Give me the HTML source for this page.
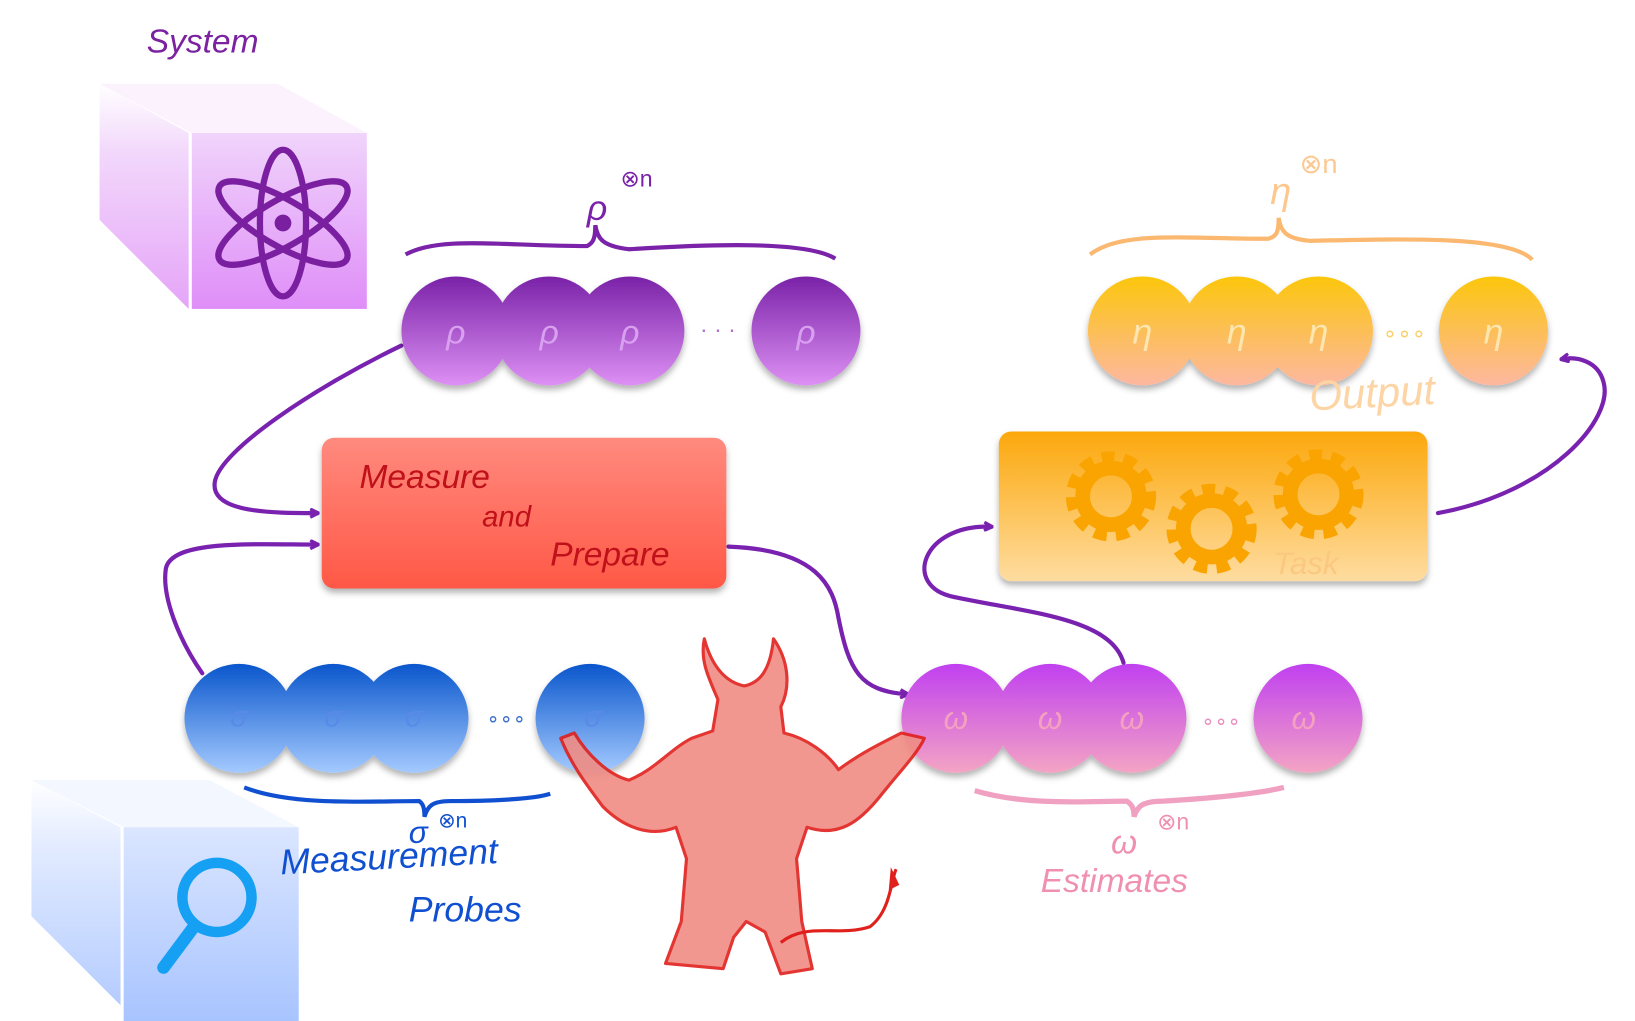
<!DOCTYPE html>
<html><head><meta charset="utf-8"><style>
html,body{margin:0;padding:0;background:#fff;}
svg{display:block;}
text{font-family:"Liberation Sans",sans-serif;}
</style></head><body>
<svg width="1635" height="1021" viewBox="0 0 1560 975" preserveAspectRatio="none" xmlns="http://www.w3.org/2000/svg">
<defs>
<linearGradient id="pf" x1="0" y1="0" x2="0" y2="1"><stop offset="0" stop-color="#f0d4fb"/><stop offset="1" stop-color="#df8ef8"/></linearGradient>
<linearGradient id="ps" x1="0" y1="0" x2="0" y2="1"><stop offset="0" stop-color="#fff"/><stop offset=".3" stop-color="#f2d8fb"/><stop offset="1" stop-color="#e5a4f8"/></linearGradient>
<linearGradient id="bf" x1="0" y1="0" x2="0" y2="1"><stop offset="0" stop-color="#dbe6ff"/><stop offset="1" stop-color="#a8c4ff"/></linearGradient>
<linearGradient id="bs" x1="0" y1="0" x2="0" y2="1"><stop offset="0" stop-color="#fff"/><stop offset=".3" stop-color="#e2ebff"/><stop offset="1" stop-color="#b4ccff"/></linearGradient>
<linearGradient id="rho" x1="0" y1="0" x2="0" y2="1"><stop offset="0" stop-color="#7a22a8"/><stop offset="1" stop-color="#dd90f4"/></linearGradient>
<linearGradient id="eta" x1="0" y1="0" x2="0" y2="1"><stop offset="0" stop-color="#fcc60c"/><stop offset="1" stop-color="#fdb8a0"/></linearGradient>
<linearGradient id="sig" x1="0" y1="0" x2="0" y2="1"><stop offset="0" stop-color="#0a56cc"/><stop offset="1" stop-color="#a4caff"/></linearGradient>
<linearGradient id="om" x1="0" y1="0" x2="0" y2="1"><stop offset="0" stop-color="#c040f0"/><stop offset="1" stop-color="#f4a4c4"/></linearGradient>
<linearGradient id="mp" x1="0" y1="0" x2="0" y2="1"><stop offset="0" stop-color="#ff8a7e"/><stop offset="1" stop-color="#ff5846"/></linearGradient>
<linearGradient id="tk" x1="0" y1="0" x2="0" y2="1"><stop offset="0" stop-color="#fca80c"/><stop offset="1" stop-color="#fedca0"/></linearGradient>
<filter id="sh" x="-20%" y="-20%" width="140%" height="150%"><feDropShadow dx="0" dy="4" stdDeviation="3" flood-opacity=".3"/></filter>
<marker id="ar" markerWidth="10" markerHeight="10" refX="8" refY="5" orient="auto" markerUnits="userSpaceOnUse"><path d="M1,1 L9,5 L1,9" fill="none" stroke="#7a22b0" stroke-width="3"/></marker>
</defs>

<text x="140" y="50" font-size="32" fill="#7a22a0" font-style="italic">System</text>
<polygon points="95,80 265,80 350,127 183,127" fill="#fbf2fe"/>
<polygon points="95,80 180,127 180,295 95,210" fill="url(#ps)"/>
<rect x="183" y="127" width="167" height="168" fill="url(#pf)"/>
<g fill="none" stroke="#7a1fa0" stroke-width="6">
<ellipse cx="270" cy="213" rx="22" ry="70"/>
<ellipse cx="270" cy="213" rx="22" ry="70" transform="rotate(60 270 213)"/>
<ellipse cx="270" cy="213" rx="22" ry="70" transform="rotate(-60 270 213)"/>
</g>
<circle cx="270" cy="213" r="8" fill="#7a1fa0"/>

<polygon points="30,745 200,745 285,790 118,790" fill="#f3f7ff"/>
<polygon points="30,745 115,790 115,960 30,875" fill="url(#bs)"/>
<rect x="118" y="790" width="167" height="185" fill="url(#bf)"/>
<circle cx="207" cy="857" r="33" fill="none" stroke="#15a0f4" stroke-width="10"/>
<line x1="185" y1="885" x2="156" y2="924" stroke="#15a0f4" stroke-width="12" stroke-linecap="round"/>

<g fill="none" stroke="#7a22b0" stroke-width="4" stroke-linecap="round">
<path d="M383,330 C300,370 210,430 205,460 C200,490 260,490 303,490" marker-end="url(#ar)"/>
<path d="M193,643 C170,610 155,570 158,545 C160,515 240,520 303,520" marker-end="url(#ar)"/>
<path d="M695,522 C780,525 795,560 800,590 C810,640 820,660 866,663" marker-end="url(#ar)"/>
<path d="M1072,633 C1060,590 980,585 910,570 C860,560 880,500 946,503" marker-end="url(#ar)"/>
<path d="M1372,490 C1480,470 1540,400 1530,365 C1525,345 1505,340 1490,343" marker-end="url(#ar)"/>
</g>

<path d="M387,243 C420,225 480,235 560,235 C566,232 568,228 568,215 C570,228 575,235 600,238 C680,233 770,230 797,247" fill="none" stroke="#7a22a8" stroke-width="4"/>
<text x="560" y="210" font-size="34" fill="#7a22a8" font-style="italic">ρ</text>
<text x="592" y="178" font-size="22" fill="#7a22a8">⊗n</text>
<g filter="url(#sh)">
<circle cx="435" cy="316" r="52" fill="url(#rho)"/>
<circle cx="524" cy="316" r="52" fill="url(#rho)"/>
<circle cx="601" cy="316" r="52" fill="url(#rho)"/>
<circle cx="769" cy="316" r="52" fill="url(#rho)"/>
</g>
<g font-size="32" fill="#d9a0f0" font-style="italic" text-anchor="middle">
<text x="435" y="328">ρ</text><text x="524" y="328">ρ</text><text x="601" y="328">ρ</text><text x="769" y="328">ρ</text>
</g>
<text x="685" y="322" font-size="22" fill="#b070d0" text-anchor="middle">· · ·</text>

<path d="M1040,243 C1070,220 1130,228 1210,228 C1218,226 1220,222 1220,208 C1222,222 1228,228 1250,230 C1340,228 1440,225 1462,248" fill="none" stroke="#fbb870" stroke-width="4"/>
<text x="1212" y="195" font-size="36" fill="#fcc890" font-style="italic">η</text>
<text x="1240" y="165" font-size="26" fill="#fcc890">⊗n</text>
<g filter="url(#sh)">
<circle cx="1090" cy="316" r="52" fill="url(#eta)"/>
<circle cx="1180" cy="316" r="52" fill="url(#eta)"/>
<circle cx="1258" cy="316" r="52" fill="url(#eta)"/>
<circle cx="1425" cy="316" r="52" fill="url(#eta)"/>
</g>
<g font-size="34" fill="#fde6b0" font-style="italic" text-anchor="middle">
<text x="1090" y="328">η</text><text x="1180" y="328">η</text><text x="1258" y="328">η</text><text x="1425" y="328">η</text>
</g>
<text x="1340" y="326" font-size="22" fill="#fbd070" text-anchor="middle">∘∘∘</text>
<text x="1250" y="392" font-size="40" fill="#fdd4a4" font-style="italic" transform="rotate(-3 1250 392)">Output</text>

<rect x="307" y="418" width="386" height="144" rx="12" fill="url(#mp)" filter="url(#sh)"/>
<g font-size="32" fill="#c0101a" font-style="italic">
<text x="343" y="466">Measure</text>
<text x="460" y="503" font-size="28">and</text>
<text x="525" y="540">Prepare</text>
</g>

<rect x="953" y="412" width="409" height="143" rx="12" fill="url(#tk)" filter="url(#sh)"/>
<g fill="none" stroke="#f9a400" stroke-width="18" stroke-dasharray="11 8">
<circle cx="1060" cy="474" r="34"/>
<circle cx="1156" cy="505" r="34"/>
<circle cx="1258" cy="472" r="34"/>
</g>
<g fill="none" stroke="#f9a400" stroke-width="14">
<circle cx="1060" cy="474" r="27"/>
<circle cx="1156" cy="505" r="27"/>
<circle cx="1258" cy="472" r="27"/>
</g>
<text x="1215" y="548" font-size="30" fill="#fbc880" font-style="italic">Task</text>

<g filter="url(#sh)">
<circle cx="228" cy="686" r="52" fill="url(#sig)"/>
<circle cx="318" cy="686" r="52" fill="url(#sig)"/>
<circle cx="395" cy="686" r="52" fill="url(#sig)"/>
<circle cx="563" cy="686" r="52" fill="url(#sig)"/>
</g>
<g font-size="28" fill="#5a8ae8" font-style="italic" text-anchor="middle">
<text x="228" y="694">σ</text><text x="318" y="694">σ</text><text x="395" y="694">σ</text><text x="566" y="694">σ</text>
</g>
<text x="483" y="694" font-size="20" fill="#4070d0" text-anchor="middle">∘∘∘</text>
<path d="M233,752 C280,770 350,765 400,765 C404,768 405,772 405,780 C408,770 412,765 430,765 C470,765 510,763 525,758" fill="none" stroke="#1050d0" stroke-width="4"/>
<text x="390" y="805" font-size="30" fill="#1050d0" font-style="italic">σ</text>
<text x="418" y="790" font-size="20" fill="#1050d0">⊗n</text>
<text x="268" y="835" font-size="34" fill="#1050d0" font-style="italic" transform="rotate(-3 268 835)">Measurement</text>
<text x="390" y="880" font-size="34" fill="#1050d0" font-style="italic">Probes</text>

<g filter="url(#sh)">
<circle cx="912" cy="686" r="52" fill="url(#om)"/>
<circle cx="1002" cy="686" r="52" fill="url(#om)"/>
<circle cx="1080" cy="686" r="52" fill="url(#om)"/>
<circle cx="1248" cy="686" r="52" fill="url(#om)"/>
</g>
<g font-size="30" fill="#f4a0c0" font-style="italic" text-anchor="middle">
<text x="912" y="696">ω</text><text x="1002" y="696">ω</text><text x="1080" y="696">ω</text><text x="1244" y="696">ω</text>
</g>
<text x="1165" y="696" font-size="20" fill="#e890c0" text-anchor="middle">∘∘∘</text>
<path d="M930,755 C980,770 1040,765 1075,765 C1080,768 1082,772 1082,780 C1085,770 1090,765 1110,765 C1160,762 1200,758 1225,752" fill="none" stroke="#f0a0c0" stroke-width="5"/>
<text x="1060" y="815" font-size="32" fill="#f090b0" font-style="italic">ω</text>
<text x="1104" y="792" font-size="22" fill="#f090b0">⊗n</text>
<text x="993" y="852" font-size="32" fill="#f090b0" font-style="italic">Estimates</text>

<!-- demon -->
<path d="M685,668 C675,645 668,630 672,610 C680,640 695,652 710,655 C725,652 735,640 738,610 C752,630 755,655 745,675 L748,700 C770,705 790,720 800,735 C820,720 840,710 860,700 L882,705 C875,720 860,735 840,760 C820,785 800,800 770,790 L760,820 L765,880 L775,925 L745,930 L730,890 L712,880 L700,895 L690,925 L635,920 L650,880 L655,820 L645,790 C620,800 595,790 575,770 C560,750 545,730 535,705 L548,700 C560,720 580,740 600,745 C625,735 640,715 660,705 L680,698 Z"
fill="#f08c84" stroke="#e0201c" stroke-width="3" stroke-linejoin="round" opacity=".9"/>
<path d="M745,900 C770,880 800,895 830,885 C850,870 850,840 855,830" fill="none" stroke="#e0201c" stroke-width="3"/>
<path d="M850,828 L858,845 L848,850 Z" fill="#e0201c"/>
</svg>
</body></html>
